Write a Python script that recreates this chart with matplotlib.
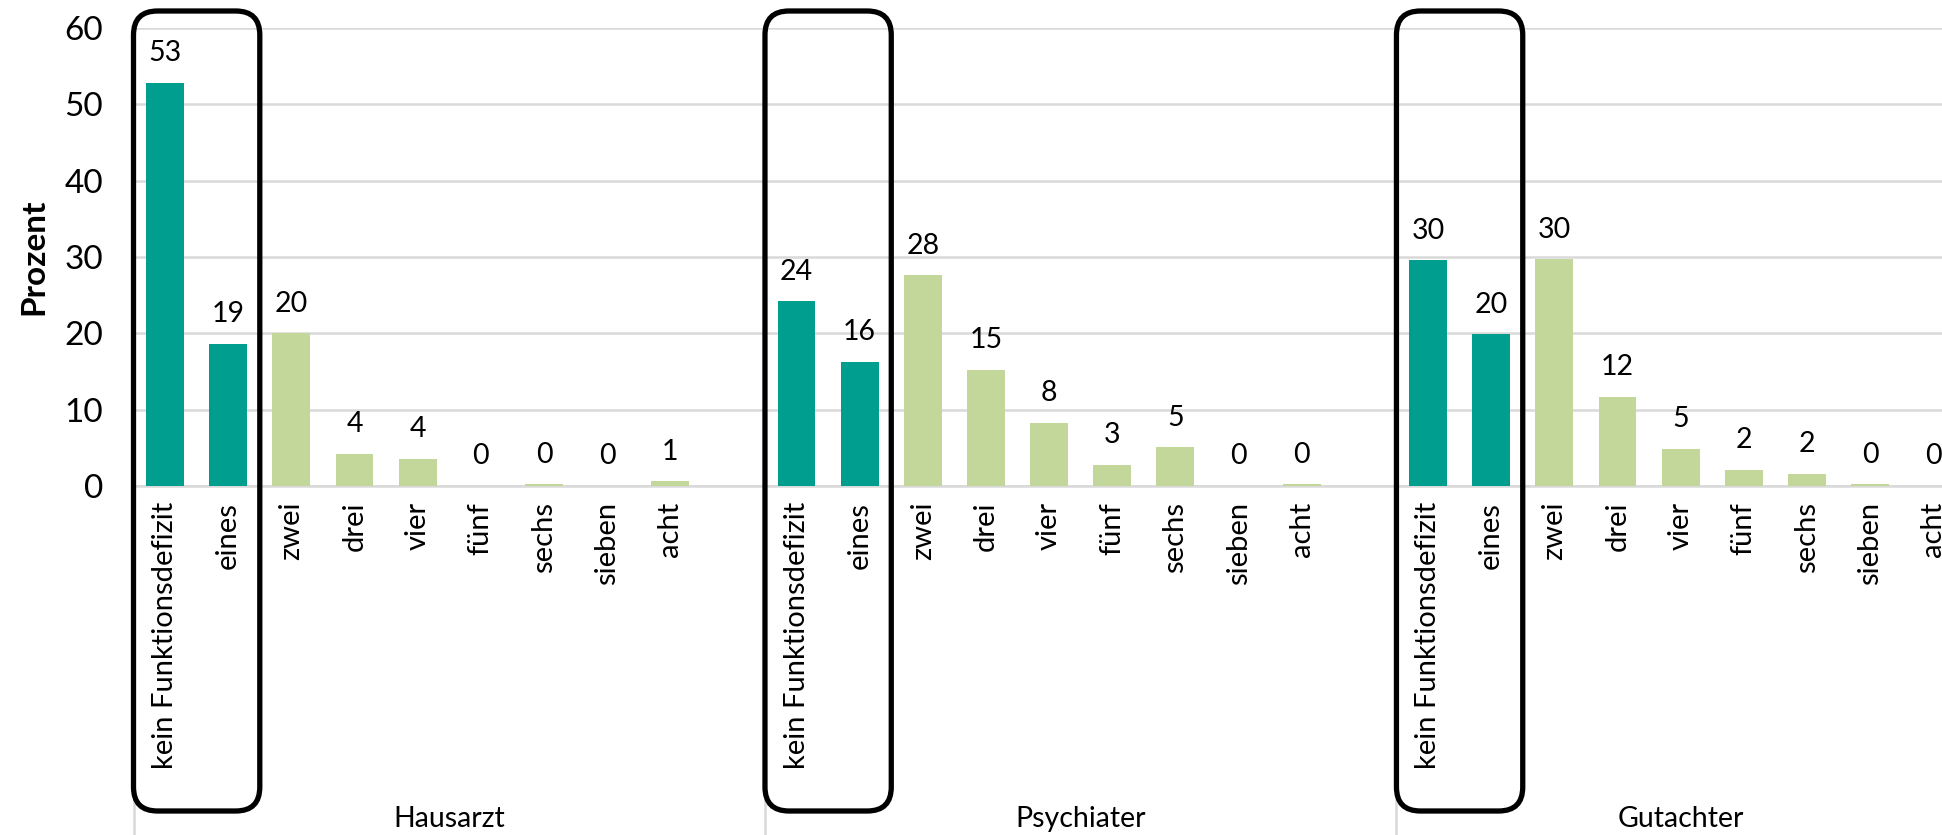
import numpy as np
import matplotlib.pyplot as plt
from matplotlib.patches import FancyBboxPatch
from matplotlib.transforms import blended_transform_factory, IdentityTransform

plt.rcParams['font.family'] = ['Lato', 'DejaVu Sans']

groups = ['Hausarzt', 'Psychiater', 'Gutachter']
categories = ['kein Funktionsdefizit', 'eines', 'zwei', 'drei', 'vier',
              'fünf', 'sechs', 'sieben', 'acht']
hausarzt = [52.8, 18.6, 20.0, 4.2, 3.6, 0.0, 0.2, 0.0, 0.6]
psychiater = [24.2, 16.3, 27.6, 15.2, 8.3, 2.8, 5.1, 0.0, 0.2]
gutachter = [29.6, 19.9, 29.7, 11.7, 4.9, 2.1, 1.6, 0.2, 0.0]
values = [hausarzt, psychiater, gutachter]

teal = '#009E8F'
green = '#C4D79B'
grid = '#D9D9D9'

W, H = 1942, 835
fig = plt.figure(figsize=(W / 100, H / 100), dpi=100)
ax = fig.add_axes([133.5 / W, (H - 486) / H, (W - 133.5) / W, (486 - 28) / H])

slot = 10  # nine categories plus one empty slot per group
xticks, xlabels = [], []
for g, vals in enumerate(values):
    x = np.arange(len(categories)) + g * slot
    cols = [teal, teal] + [green] * (len(categories) - 2)
    ax.bar(x, vals, width=0.6, color=cols, zorder=3)
    for xi, v in zip(x, vals):
        ax.annotate(f'{v:.0f}', (xi, v), xytext=(0, 15.5), textcoords='offset points',
                    ha='center', va='baseline', fontsize=20.5, annotation_clip=False)
    xticks.extend(x)
    xlabels.extend(categories)

ax.set_xlim(-0.5, (W - 165) / 63.15)
ax.set_ylim(0, 60)
ax.set_yticks(range(0, 61, 10))
ax.grid(axis='y', color=grid, linewidth=1.8, zorder=0)
for s in ['top', 'right', 'left']:
    ax.spines[s].set_visible(False)
ax.spines['bottom'].set_color(grid)
ax.spines['bottom'].set_linewidth(1.8)
ax.tick_params(axis='y', length=0, pad=22, labelsize=24)
ax.set_xticks(xticks)
ax.set_xticklabels(xlabels, rotation=90, va='top', ha='center', fontsize=21)
ax.tick_params(axis='x', length=0, pad=11.5)
fig.text(34 / W, (H - 257) / H, 'Prozent', rotation=90, ha='center', va='center',
         fontsize=24, fontweight='bold')

# group separators and group names below the category labels
sep = blended_transform_factory(ax.transData, ax.transAxes)
lab = blended_transform_factory(ax.transData, fig.transFigure)
drop = -(H - 486) / (486 - 28)
for g, name in enumerate(groups):
    left = g * slot - 0.5
    ax.plot([left, left], [0, drop], transform=sep, color=grid, lw=1.8, clip_on=False)
    centre = g * slot + (4.5 if g < len(groups) - 1 else 4)
    fig.text(centre, (H - 819) / H, name, transform=lab, ha='center', va='center',
             fontsize=20.5)

# rounded frames around the first two categories of each group
for g in range(len(groups)):
    x0 = ax.transData.transform((g * slot - 0.5, 0))[0]
    x1 = ax.transData.transform((g * slot + 1.5, 0))[0]
    y0, y1 = H - 811, H - 11
    box = FancyBboxPatch((x0, y0), x1 - x0, y1 - y0,
                         boxstyle='round,pad=0,rounding_size=24',
                         transform=IdentityTransform(), fill=False,
                         edgecolor='black', linewidth=3.8, zorder=5)
    fig.patches.append(box)

fig.savefig('out.png', dpi=100)
